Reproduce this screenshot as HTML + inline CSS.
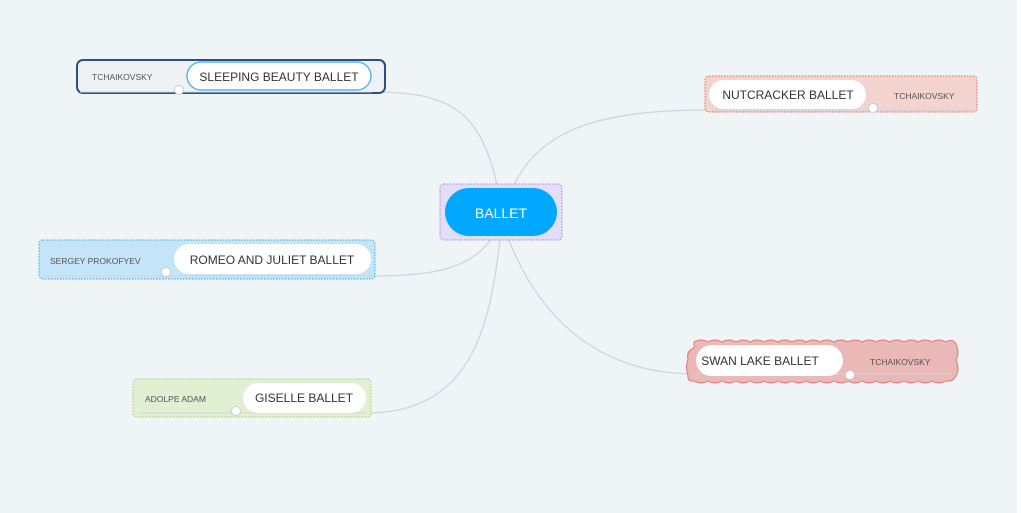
<!DOCTYPE html>
<html><head><style>
html,body{margin:0;padding:0;background:#eff4f7;}
svg{display:block;font-family:"Liberation Sans",sans-serif;}
</style></head><body>
<svg width="1021" height="513" viewBox="0 0 1021 513">
<rect width="1021" height="513" fill="#eff4f7"/>
<rect x="1017" y="0" width="4" height="513" fill="#fff"/>
<g fill="none" stroke="#cfd5da" stroke-width="1.3">
<path d="M372,92 C450,92 480,110 497,185"/>
<path d="M514,185 C540,130 600,110 706,110"/>
<path d="M492,238 C470,270 430,276 372,276"/>
<path d="M500,238 C490,330 470,413 366,413"/>
<path d="M508,238 C540,320 600,374 696,374"/>
</g>
<!-- Sleeping beauty -->
<rect x="77" y="60" width="308" height="33" rx="6" fill="#eef2f6" stroke="#2d4f7f" stroke-width="2"/>
<line x1="80" y1="92" x2="372" y2="92" stroke="#cfd5da"/>
<rect x="187" y="62" width="184" height="28" rx="14" fill="#fff" stroke="#5ab6ea" stroke-width="1.5"/>
<text x="279" y="81" font-size="12" text-anchor="middle" fill="#333">SLEEPING BEAUTY BALLET</text>
<text x="92" y="80" font-size="8.5" fill="#555">TCHAIKOVSKY</text>
<circle cx="179" cy="90" r="4.5" fill="#fff" stroke="#ccc"/>
<!-- Nutcracker -->
<rect x="705" y="76" width="272" height="36" rx="4" fill="#f3d3cf" stroke="#e8604c" stroke-dasharray="1.5 1.5"/>
<line x1="709" y1="110" x2="970" y2="110" stroke="#cfd5da"/>
<rect x="709" y="80" width="157" height="29" rx="14.5" fill="#fff"/>
<text x="788" y="99" font-size="12" text-anchor="middle" fill="#333">NUTCRACKER BALLET</text>
<text x="894" y="99" font-size="8.5" fill="#555">TCHAIKOVSKY</text>
<circle cx="873" cy="108" r="4.5" fill="#fff" stroke="#ccc"/>
<!-- Ballet -->
<rect x="440" y="184" width="122" height="56" rx="4" fill="#e4ddf7" stroke="#9a87e0" stroke-dasharray="1.5 1.5"/>
<rect x="445" y="188" width="112" height="48" rx="24" fill="#00a8ff"/>
<text x="501" y="218" font-size="14" text-anchor="middle" fill="#fff">BALLET</text>
<!-- Romeo -->
<rect x="39" y="240" width="336" height="39" rx="4" fill="#c4e4f7" stroke="#3aa3e0" stroke-dasharray="1.5 1.5"/>
<line x1="44" y1="276" x2="372" y2="276" stroke="#cfd5da"/>
<rect x="174" y="244" width="197" height="30" rx="15" fill="#fff"/>
<text x="272" y="264" font-size="12" text-anchor="middle" fill="#333">ROMEO AND JULIET BALLET</text>
<text x="50" y="264" font-size="8.5" fill="#555">SERGEY PROKOFYEV</text>
<circle cx="166" cy="272" r="4.5" fill="#fff" stroke="#ccc"/>
<!-- Giselle -->
<rect x="133" y="379" width="238" height="38" rx="4" fill="#e1f0d2" stroke="#9fd070" stroke-dasharray="1.5 1.5"/>
<line x1="138" y1="413" x2="366" y2="413" stroke="#cfd5da"/>
<rect x="243" y="383" width="123" height="30" rx="15" fill="#fff"/>
<text x="304" y="402" font-size="12" text-anchor="middle" fill="#333">GISELLE BALLET</text>
<text x="145" y="402" font-size="8.5" fill="#555">ADOLPE ADAM</text>
<circle cx="236" cy="411" r="4.5" fill="#fff" stroke="#ccc"/>
<!-- Swan lake -->
<path d="M694,342 q7,-4 14,0 q7,-4 14,0 q7,-4 14,0 q7,-4 14,0 q7,-4 14,0 q7,-4 14,0 q7,-4 14,0 q7,-4 14,0 q7,-4 14,0 q7,-4 14,0 q7,-4 14,0 q7,-4 14,0 q7,-4 14,0 q7,-4 14,0 q7,-4 14,0 q7,-4 14,0 q7,-4 14,0 q7,-4 14,0 q7,-4 10,2 q4,9 0,16 q4,9 0,16 q-3,6 -10,5 q-7,4 -14,0 q-7,4 -14,0 q-7,4 -14,0 q-7,4 -14,0 q-7,4 -14,0 q-7,4 -14,0 q-7,4 -14,0 q-7,4 -14,0 q-7,4 -14,0 q-7,4 -14,0 q-7,4 -14,0 q-7,4 -14,0 q-7,4 -14,0 q-7,4 -14,0 q-7,4 -14,0 q-7,4 -14,0 q-7,4 -14,0 q-7,4 -14,0 q-7,1 -6,-6 q-3,-8 0,-16 q-2,-8 6,-11z" fill="#eab8b6" stroke="#e07a70"/>
<line x1="696" y1="374" x2="952" y2="374" stroke="#cfd5da"/>
<rect x="696" y="345" width="147" height="31" rx="15.5" fill="#fff"/>
<text x="760" y="365" font-size="12" text-anchor="middle" fill="#333">SWAN LAKE BALLET</text>
<text x="870" y="365" font-size="8.5" fill="#555">TCHAIKOVSKY</text>
<circle cx="850" cy="375" r="4.5" fill="#fff" stroke="#ccc"/>
</svg>
</body></html>
